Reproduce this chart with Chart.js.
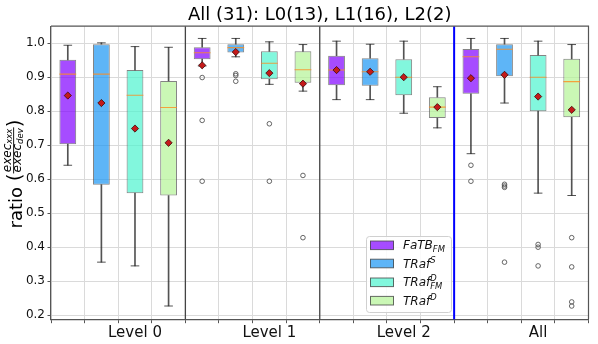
<!DOCTYPE html>
<html><head><meta charset="utf-8">
<script src="https://cdn.jsdelivr.net/npm/chart.js@4/dist/chart.umd.min.js"></script>
<style>html,body{margin:0;padding:0;background:#fff}#wrap{width:598px;height:344px;position:relative}</style>
</head><body><div id="wrap"><canvas id="c" width="598" height="344"></canvas></div>
<script>
// ---------- data ----------
const titleText = 'All (31): L0(13), L1(16), L2(2)';
const categories = ['Level 0', 'Level 1', 'Level 2', 'All'];
const seriesNames = ['FaTB_FM', 'TRaf^S', 'TRaf^D_FM', 'TRaf^D'];
const yTicks = [0.2, 0.3, 0.4, 0.5, 0.6, 0.7, 0.8, 0.9, 1.0];
// each row = one series, columns = categories
const whiskerLow = [
  [0.641, 0.933, 0.834, 0.675],
  [0.356, 0.960, 0.834, 0.824],
  [0.345, 0.879, 0.794, 0.559],
  [0.227, 0.859, 0.751, 0.552]
];
const q1 = [
  [0.703, 0.953, 0.876, 0.851],
  [0.584, 0.973, 0.875, 0.903],
  [0.559, 0.894, 0.847, 0.800],
  [0.552, 0.884, 0.780, 0.782]
];
const median = [
  [0.909, 0.972, 0.921, 0.960],
  [0.909, 0.987, 0.916, 0.982],
  [0.847, 0.941, 0.900, 0.900],
  [0.811, 0.922, 0.812, 0.887]
];
const q3 = [
  [0.951, 0.988, 0.963, 0.983],
  [0.997, 0.997, 0.956, 0.997],
  [0.921, 0.976, 0.953, 0.965],
  [0.889, 0.976, 0.841, 0.954]
];
const whiskerHigh = [
  [0.994, 1.014, 1.006, 1.014],
  [1.001, 1.014, 0.997, 1.014],
  [0.990, 1.004, 1.006, 1.006],
  [0.988, 0.996, 0.872, 0.996]
];
const mean = [
  [0.846, 0.935, 0.921, 0.897],
  [0.824, 0.974, 0.916, 0.907],
  [0.749, 0.912, 0.900, 0.843],
  [0.707, 0.881, 0.812, 0.804]
];
const outliers = [
  [[], [0.899, 0.773, 0.594], [], [0.641, 0.594]],
  [[], [0.910, 0.905, 0.888], [], [0.585, 0.580, 0.576, 0.356]],
  [[], [0.763, 0.594], [], [0.408, 0.400, 0.345]],
  [[], [0.611, 0.428], [], [0.428, 0.342, 0.239, 0.227]]
];

// ---------- styles ----------
const fillColors = ['rgba(128,0,255,0.7)', 'rgba(26,150,243,0.7)', 'rgba(77,243,206,0.7)', 'rgba(179,243,150,0.7)'];
const FONT = '"DejaVu Sans", sans-serif';

const nS = seriesNames.length, nG = categories.length;
const pos = (g, s) => g * nS + s;
const xTickPositions = [];
for (let i = 0; i < nS * nG; i++) xTickPositions.push(i);
const xTickLabels = xTickPositions.map(i => (i % nS === 2 ? categories[Math.floor(i / nS)] : ''));

const datasets = [];
// boxes
for (let s = 0; s < nS; s++) {
  datasets.push({
    type: 'bar', label: seriesNames[s], order: 2, grouped: false,
    data: categories.map((c, g) => ({ x: pos(g, s), y: [q1[s][g], q3[s][g]] })),
    backgroundColor: fillColors[s], borderColor: 'rgba(80,80,80,0.7)', borderWidth: 1,
    borderSkipped: false, barPercentage: 0.5, categoryPercentage: 1.0
  });
}
// whiskers
const lowW = [], highW = [], caps = [], meds = [], means = [], outs = [];
for (let s = 0; s < nS; s++) for (let g = 0; g < nG; g++) {
  const x = pos(g, s);
  lowW.push({ x, y: [whiskerLow[s][g], q1[s][g]] });
  highW.push({ x, y: [q3[s][g], whiskerHigh[s][g]] });
  caps.push({ x, y: whiskerLow[s][g] }, { x, y: whiskerHigh[s][g] });
  meds.push({ x, y: median[s][g] });
  means.push({ x, y: mean[s][g] });
  outliers[s][g].forEach(v => outs.push({ x, y: v }));
}
datasets.push({ type: 'bar', label: 'whisker-low', order: 3, grouped: false, data: lowW,
  backgroundColor: 'rgba(40,40,40,0.8)', barThickness: 1, borderWidth: 0 });
datasets.push({ type: 'bar', label: 'whisker-high', order: 3, grouped: false, data: highW,
  backgroundColor: 'rgba(40,40,40,0.8)', barThickness: 1, borderWidth: 0 });
datasets.push({ type: 'scatter', label: 'caps', order: 1, data: caps, pointStyle: 'line',
  pointRadius: 4.3, borderColor: 'rgba(40,40,40,0.8)', borderWidth: 1 });
datasets.push({ type: 'scatter', label: 'median', order: 1, data: meds, pointStyle: 'line',
  pointRadius: 8.4, borderColor: 'rgba(255,140,30,0.8)', borderWidth: 1.1 });
datasets.push({ type: 'scatter', label: 'mean', order: 0, data: means, pointStyle: 'rectRot',
  pointRadius: 3.6, backgroundColor: '#c41a1a', borderColor: '#3a0a0a', borderWidth: 0.8 });
datasets.push({ type: 'scatter', label: 'outliers', order: 0, data: outs, pointStyle: 'circle',
  pointRadius: 2.3, backgroundColor: 'rgba(255,255,255,0)', borderColor: '#555', borderWidth: 0.9 });

// ---------- plugins ----------
function drawRich(ctx, x, y, parts) {
  let cx = x;
  parts.forEach(p => {
    ctx.font = 'italic ' + p.size + 'px ' + FONT;
    ctx.fillText(p.t, cx, y + (p.dy || 0));
    const w = ctx.measureText(p.t).width;
    if (!p.noAdvance) cx += w;
  });
  return cx - x;
}

const decor = {
  id: 'decor',
  afterLayout(chart) {
    const t = chart.titleBlock, a = chart.chartArea;
    if (t) { t.left = a.left; t.right = a.right; }
  },
  afterDatasetsDraw(chart) {
    const ctx = chart.ctx, a = chart.chartArea, xs = chart.scales.x;
    ctx.save();
    const seps = [[3.5, '#444', 1.3], [7.5, '#444', 1.3], [11.5, '#0000ff', 2]];
    seps.forEach(([v, col, w]) => {
      const px = xs.getPixelForValue(v);
      ctx.strokeStyle = col; ctx.lineWidth = w;
      ctx.beginPath(); ctx.moveTo(px, a.top); ctx.lineTo(px, a.bottom); ctx.stroke();
    });
    ctx.strokeStyle = '#555'; ctx.lineWidth = 1.2;
    ctx.beginPath(); ctx.moveTo(a.left, a.top); ctx.lineTo(a.right, a.top); ctx.lineTo(a.right, a.bottom); ctx.stroke();
    ctx.restore();
  },
  afterDraw(chart) {
    const ctx = chart.ctx;
    ctx.save();
    // ----- legend -----
    const lx = 366, ly = 236, lw = 85, lh = 76;
    ctx.fillStyle = 'rgba(255,255,255,0.85)';
    ctx.strokeStyle = '#d0d0d0'; ctx.lineWidth = 1;
    ctx.beginPath();
    if (ctx.roundRect) ctx.roundRect(lx + 0.5, ly + 0.5, lw, lh, 3); else ctx.rect(lx + 0.5, ly + 0.5, lw, lh);
    ctx.fill(); ctx.stroke();
    const rows = [245.3, 263.5, 282.3, 300.7];
    ctx.textBaseline = 'alphabetic'; ctx.textAlign = 'left';
    rows.forEach((ry, s) => {
      ctx.fillStyle = fillColors[s];
      ctx.fillRect(370, ry - 4.3, 24, 8.6);
      ctx.strokeStyle = 'rgba(70,70,70,0.8)'; ctx.lineWidth = 1;
      ctx.strokeRect(370.5, ry - 4.3, 23, 8.6);
      ctx.fillStyle = '#111';
      const by = ry + 4;
      const tx = 403;
      if (s === 0) drawRich(ctx, tx, by, [{ t: 'FaTB', size: 12 }, { t: 'FM', size: 8.4, dy: 2.5 }]);
      if (s === 1) drawRich(ctx, tx, by, [{ t: 'TRaf', size: 12 }, { t: 'S', size: 8.4, dy: -5 }]);
      if (s === 2) drawRich(ctx, tx, by, [{ t: 'TRaf', size: 12 }, { t: 'D', size: 8.4, dy: -5, noAdvance: true }, { t: 'FM', size: 8.4, dy: 2.5 }]);
      if (s === 3) drawRich(ctx, tx, by, [{ t: 'TRaf', size: 12 }, { t: 'D', size: 8.4, dy: -5 }]);
    });
    // ----- y axis label -----
    const cy = 174;
    ctx.translate(0, cy); ctx.rotate(-Math.PI / 2);
    ctx.fillStyle = '#000';
    ctx.font = '18px ' + FONT;
    const wRatio = ctx.measureText('ratio ').width;
    ctx.font = '20px ' + FONT;
    const wParen = ctx.measureText('(').width;
    ctx.font = 'italic 12px ' + FONT;
    const wExec = ctx.measureText('exec').width;
    ctx.font = 'italic 8.5px ' + FONT;
    const wXxx = ctx.measureText('xxx').width, wDev = ctx.measureText('dev').width;
    const wFrac = Math.max(wExec + wXxx, wExec + wDev) + 2;
    const total = wRatio + 2 * wParen + wFrac;
    let x0 = -total / 2;
    ctx.font = '18px ' + FONT; ctx.fillText('ratio', x0, 22);
    x0 += wRatio;
    ctx.font = '20px ' + FONT; ctx.fillText('(', x0, 20.5);
    x0 += wParen;
    const nx = x0 + (wFrac - (wExec + wXxx)) / 2;
    drawRich(ctx, nx, 10.5, [{ t: 'exec', size: 12 }, { t: 'xxx', size: 8.5, dy: 1.8 }]);
    ctx.fillRect(x0, 13.2, wFrac, 0.9);
    const dx = x0 + (wFrac - (wExec + wDev)) / 2;
    drawRich(ctx, dx, 20.8, [{ t: 'exec', size: 12 }, { t: 'dev', size: 8.5, dy: 1.8 }]);
    x0 += wFrac;
    ctx.font = '20px ' + FONT; ctx.fillText(')', x0, 20.5);
    ctx.restore();
  }
};

new Chart(document.getElementById('c'), {
  type: 'bar',
  data: { datasets },
  options: {
    responsive: false, animation: false, devicePixelRatio: 1,
    layout: { padding: { left: 0, right: 6, top: 0, bottom: 0 } },
    plugins: {
      legend: { display: false }, tooltip: { enabled: false },
      title: { display: true, text: titleText, color: '#000',
        font: { family: FONT, size: 18, weight: 'normal', lineHeight: 1.2 },
        padding: { top: 4.6, bottom: 0 } }
    },
    scales: {
      x: {
        type: 'linear', min: -0.5, max: 15.5, offset: false,
        afterBuildTicks: sc => { sc.ticks = xTickPositions.map(v => ({ value: v })); },
        afterFit: sc => { sc.height = 24.8; },
        ticks: { autoSkip: false, maxRotation: 0, padding: 1, color: '#111',
          font: { family: FONT, size: 15 }, callback: v => xTickLabels[v] },
        grid: { color: '#dadada', lineWidth: 1, tickLength: 4, tickColor: '#555' },
        border: { color: '#555', width: 1.2 }
      },
      y: {
        type: 'linear', min: 0.1882, max: 1.05,
        afterBuildTicks: sc => { sc.ticks = yTicks.map(v => ({ value: v })); },
        afterFit: sc => { sc.width = 51; },
        ticks: { padding: 2.5, color: '#111', font: { family: FONT, size: 12 }, callback: v => v.toFixed(1) },
        grid: { color: '#dadada', lineWidth: 1, tickLength: 3.5, tickColor: '#555' },
        border: { color: '#555', width: 1.2 }
      }
    }
  },
  plugins: [decor]
});
</script>
</body></html>
